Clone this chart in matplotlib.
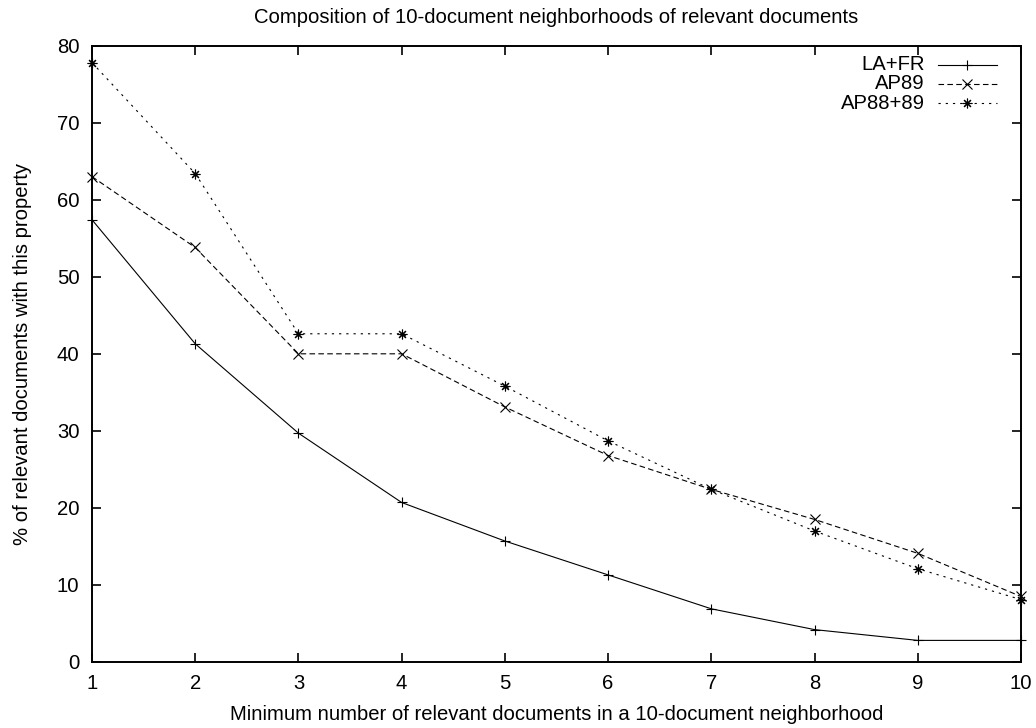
import matplotlib
matplotlib.use("Agg")
import matplotlib.pyplot as plt
from matplotlib.lines import Line2D

plt.rcParams['font.family'] = ['Liberation Sans', 'DejaVu Sans']

x_vals = [1, 2, 3, 4, 5, 6, 7, 8, 9, 10]
la_fr = [57.4, 41.3, 29.7, 20.7, 15.7, 11.3, 6.9, 4.2, 2.8, 2.8]
ap89 = [63.0, 53.8, 40.0, 40.0, 33.1, 26.8, 22.4, 18.5, 14.1, 8.5]
ap88_89 = [77.8, 63.4, 42.6, 42.6, 35.8, 28.7, 22.4, 17.0, 12.1, 8.1]

series_names = ["LA+FR", "AP89", "AP88+89"]
x_ticks = list(range(1, 11))
y_ticks = list(range(0, 81, 10))

FS = 14.6
fig = plt.figure(figsize=(10.36, 7.28), dpi=100)
ax = fig.add_axes([0.0888, 0.0907, 0.8967, 0.8466])

lw = 0.8
ms = 7
styles = [
    dict(marker='+', dashes=None),
    dict(marker='x', dashes=(5, 3)),
    dict(marker=(8, 2, 0), dashes=(2, 4.5)),
]
data = [la_fr, ap89, ap88_89]

for vals, st in zip(data, styles):
    kw = dict(color='black', lw=lw, marker=st['marker'], markersize=ms,
              markeredgewidth=0.8, clip_on=False)
    if st['dashes'] is None:
        ax.plot(x_vals, vals, ls='-', **kw)
    else:
        ax.plot(x_vals, vals, ls='--', dashes=st['dashes'], **kw)

ax.set_xlim(1, 10)
ax.set_ylim(0, 80)
ax.set_xticks(x_ticks)
ax.set_yticks(y_ticks)
ax.tick_params(direction='in', length=6.5, width=1.2, top=True, right=True,
               labelsize=FS, pad=9)
for s in ax.spines.values():
    s.set_linewidth(1.4)

ax.set_title("Composition of 10-document neighborhoods of relevant documents",
             fontsize=FS, pad=16)
ax.set_xlabel("Minimum number of relevant documents in a 10-document neighborhood",
              fontsize=FS, labelpad=8)
ax.set_ylabel("% of relevant documents with this property", fontsize=FS, labelpad=18)

# key in the upper right: right-aligned labels with line samples
row_y = [0.9687, 0.938, 0.9067]
for name, st, yy in zip(series_names, styles, row_y):
    ax.text(0.8966, yy, name, transform=ax.transAxes, ha='right', va='center',
            fontsize=FS)
    kw = dict(color='black', lw=lw, transform=ax.transAxes)
    if st['dashes'] is None:
        ax.add_line(Line2D([0.9107, 0.974], [yy, yy], ls='-', **kw))
    else:
        ax.add_line(Line2D([0.9107, 0.974], [yy, yy], ls='--', dashes=st['dashes'], **kw))
    ax.add_line(Line2D([0.942], [yy], marker=st['marker'], markersize=ms,
                       markeredgewidth=0.8, color='black', ls='none',
                       transform=ax.transAxes))

fig.savefig("out.png", dpi=100)
